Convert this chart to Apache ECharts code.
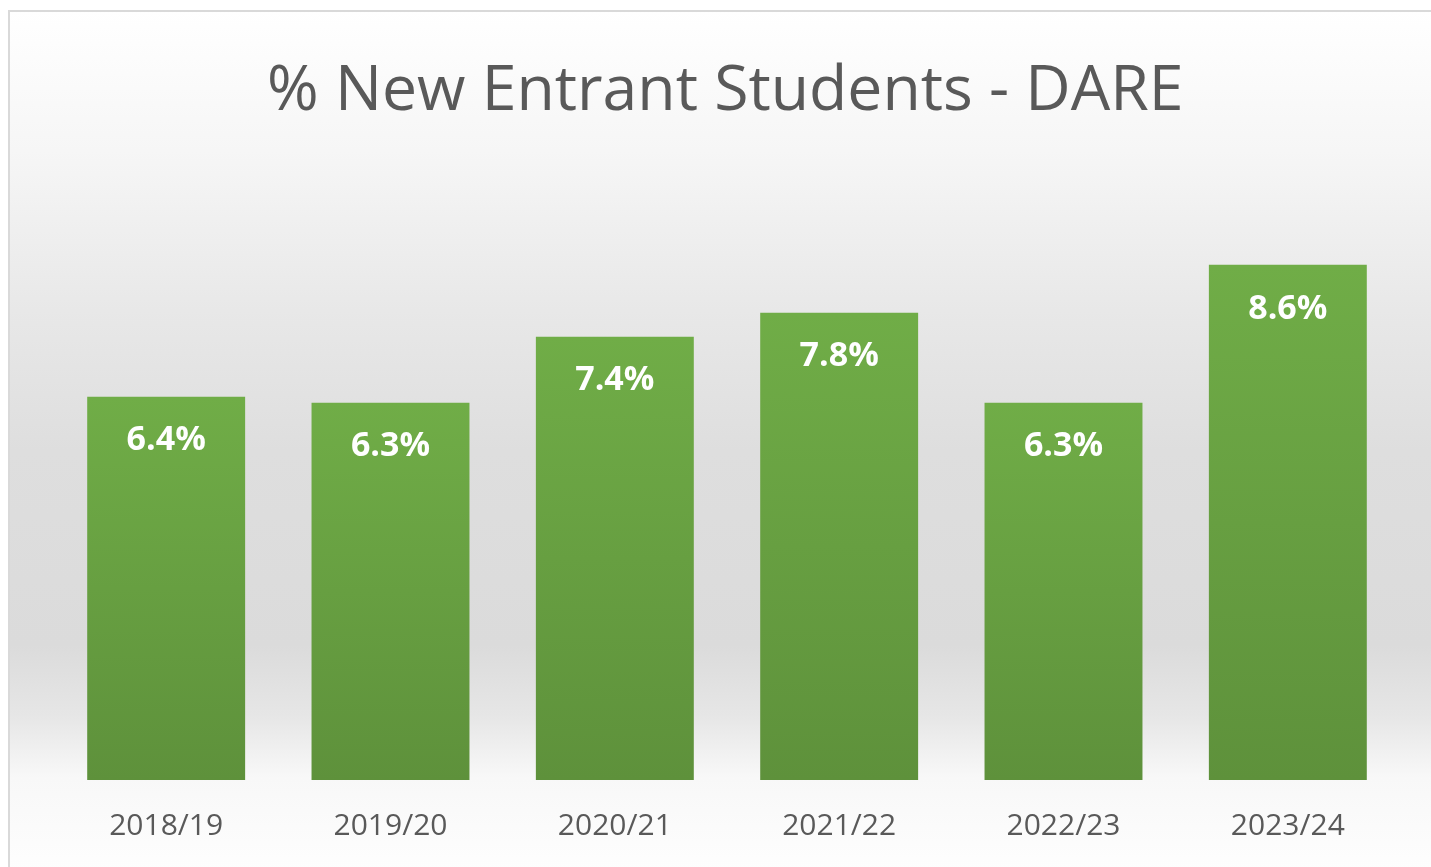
<!DOCTYPE html>
<html>
<head>
<meta charset="utf-8">
<title>% New Entrant Students - DARE</title>
<script src="https://cdn.jsdelivr.net/npm/echarts@6/dist/echarts.min.js"></script>
<style>
    html, body { margin: 0; padding: 0; background: #ffffff; }
    #chart { width: 1431px; height: 867px; }
</style>
</head>
<body>
<div id="chart"></div>
<script>
// data
var years = ['2018/19', '2019/20', '2020/21', '2021/22', '2022/23', '2023/24'];
var darePct = [6.4, 6.3, 7.4, 7.8, 6.3, 8.6];

var chart = echarts.init(document.getElementById('chart'));

var option = {
    backgroundColor: '#ffffff',
    animation: false,
    title: {
        text: '% New Entrant Students - DARE',
        left: 262,
        top: 56,
        textStyle: {
            fontFamily: 'Open Sans',
            fontSize: 62.5,
            fontWeight: 'normal',
            color: '#595959'
        }
    },
    // panel background + border
    graphic: [
        {
            type: 'rect',
            z: -10,
            silent: true,
            shape: { x: 9, y: 11, width: 1440, height: 880 },
            style: {
                fill: new echarts.graphic.LinearGradient(0, 0, 0, 1, [
                    { offset: 0, color: '#ffffff' },
                    { offset: 0.16, color: '#f6f6f6' },
                    { offset: 0.34, color: '#e8e8e8' },
                    { offset: 0.5, color: '#dedede' },
                    { offset: 0.72, color: '#dbdbdb' },
                    { offset: 0.8, color: '#e6e6e6' },
                    { offset: 0.87, color: '#f8f8f8' },
                    { offset: 1, color: '#ffffff' }
                ]),
                stroke: '#d9d9d9',
                lineWidth: 2
            }
        }
    ],
    grid: {
        left: 54,
        right: 31,
        top: 181,
        bottom: 87
    },
    xAxis: {
        type: 'category',
        data: years,
        axisLine: { show: false },
        axisTick: { show: false },
        axisLabel: {
            margin: 31,
            fontFamily: 'Open Sans',
            fontSize: 30,
            color: '#595959'
        }
    },
    yAxis: {
        type: 'value',
        min: 0,
        max: 10,
        show: false,
        splitLine: { show: false }
    },
    series: [
        {
            type: 'bar',
            data: darePct,
            barWidth: '70.4%',
            itemStyle: {
                color: new echarts.graphic.LinearGradient(0, 0, 0, 1, [
                    { offset: 0, color: '#70ad47' },
                    { offset: 1, color: '#5e913b' }
                ])
            },
            label: {
                show: true,
                position: 'insideTop',
                distance: 27,
                formatter: function (p) {
                    return p.value.toFixed(1) + '%';
                },
                fontFamily: 'Open Sans',
                fontSize: 34,
                fontWeight: 'bold',
                color: '#ffffff'
            }
        }
    ]
};

chart.setOption(option);
</script>
</body>
</html>
